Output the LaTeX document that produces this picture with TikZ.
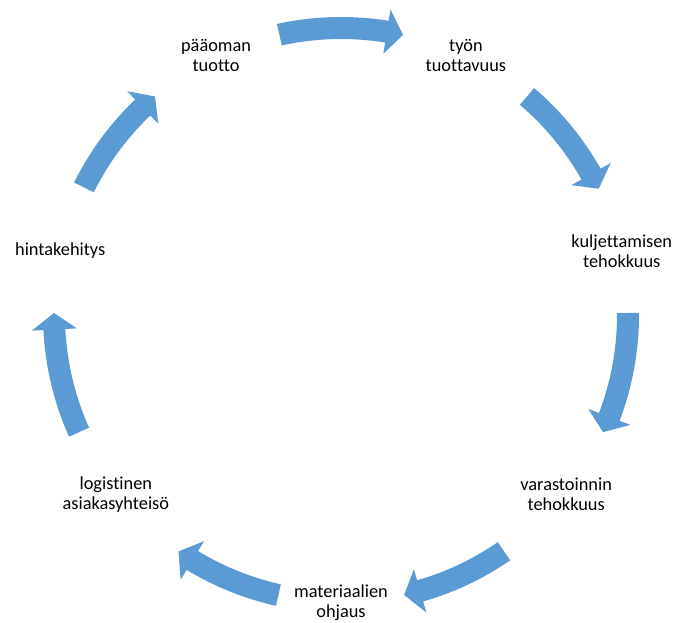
\documentclass[tikz,border=0pt]{standalone}
\usepackage{fontspec}
\setmainfont{Carlito}[Ligatures={NoCommon,NoRare,NoContextual}]
\usetikzlibrary{calc}
\tikzset{
  stage/.style={align=center, inner sep=0pt, font=\fontsize{18.4}{20}\selectfont, text=black},
  arrowfill/.style={fill={rgb,255:red,91;green,155;blue,213}, draw=none}
}
% curved block arrow on the ring: #1 tail angle, #2 tip angle (clockwise)
\newcommand\ringarrow[2]{%
  \fill[arrowfill] (#1:276) arc[start angle=#1, end angle={#2+3.3}, radius=276]
    -- ({#2+3.3}:264.5) -- (#2:287) -- ({#2+3.3}:309.5) -- ({#2+3.3}:298)
    arc[start angle={#2+3.3}, end angle=#1, radius=298] -- cycle;}
\begin{document}
\begin{tikzpicture}[x=1bp,y=1bp]
  \useasboundingbox (0,0) rectangle (676,623);
  \coordinate (hub) at (341,308);
  % stage labels on a ring of radius 288
  \node[stage] (paaoma) at ($(hub)+(115.71:288)$) {pääoman\\tuotto};
  \node[stage] (tyo) at ($(hub)+(64.29:288)$) {työn\\tuottavuus};
  \node[stage] (kulj) at ($(hub)+(12.86:288)$) {kuljettamisen\\tehokkuus};
  \node[stage] (vara) at ($(hub)+(-38.57:288)$) {varastoinnin\\tehokkuus};
  \node[stage] (mater) at ($(hub)+(-90:288)$) {materiaalien\\ohjaus};
  \node[stage] (logi) at ($(hub)+(-141.43:288)$) {logistinen\\asiakasyhteisö};
  \node[stage] (hinta) at ($(hub)+(167.14:288)$) {hintakehitys};
  % arrows between consecutive stages
  \begin{scope}[shift={(hub)}]
    \ringarrow{102.4}{77.5}
    \ringarrow{49.6}{26.1}
    \ringarrow{0.4}{-24.1}
    \ringarrow{-55.4}{-77.3}
    \ringarrow{-102.6}{-124.5}
    \ringarrow{204.1}{179.6}
    \ringarrow{153.6}{130.4}
  \end{scope}
\end{tikzpicture}
\end{document}
